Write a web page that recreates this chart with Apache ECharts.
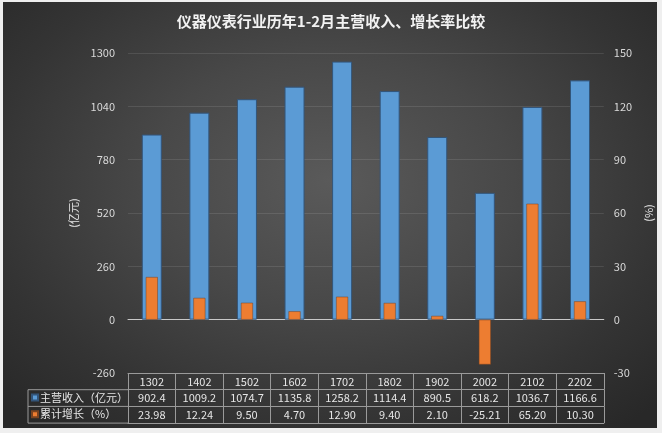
<!DOCTYPE html>
<html><head><meta charset="utf-8">
<script src="https://cdn.jsdelivr.net/npm/echarts@6/dist/echarts.min.js"></script>
<style>
html,body{margin:0;padding:0;background:#efefef;}
#bg{position:absolute;left:3px;top:2px;width:654px;height:426px;
background:radial-gradient(ellipse 70% 75% at 50% 42%, #5a5a5a 0%, #484848 40%, #343434 75%, #282828 100%);}
#c{position:absolute;left:0;top:0;width:662px;height:433px;}
</style></head>
<body>
<div id="bg"></div>
<div id="c"></div>
<script>
const categories = ['1302','1402','1502','1602','1702','1802','1902','2002','2102','2202'];
const revenue = [902.4,1009.2,1074.7,1135.8,1258.2,1114.4,890.5,618.2,1036.7,1166.6];
const growth = [23.98,12.24,9.50,4.70,12.90,9.40,2.10,-25.21,65.20,10.30];
const seriesNames = ['主营收入（亿元）','累计增长（%）'];
const titleText = '仪器仪表行业历年1-2月主营收入、增长率比较';

const FONT = '"Noto Sans CJK SC", "Noto Sans", sans-serif';
const TXT = '#e6e6e6';
const LINE = '#9a9a9a';
const ROW = 16.7;

const chart = echarts.init(document.getElementById('c'));
const tableAxis = (offset, labels, show) => ({
  type: 'category', data: categories, position: 'bottom', offset: offset,
  gridIndex: 0,
  axisLine: {show: true, onZero: false, lineStyle: {color: LINE, width: 1}},
  axisTick: {show: show, length: ROW, interval: 0, lineStyle: {color: LINE}},
  axisLabel: {show: show, interval: 0, margin: 3, color: TXT, fontSize: 11, fontFamily: FONT,
    formatter: (v, i) => labels[i]},
  splitLine: {show: false}
});

chart.setOption({
  backgroundColor: 'transparent',
  animation: false,
  title: {text: titleText, left: 'center', top: 9,
    textStyle: {color: '#f2f2f2', fontSize: 15, fontWeight: 'bold', fontFamily: FONT}},
  legend: {orient: 'vertical', left: 31, top: 391, padding: 0, itemWidth: 6, itemHeight: 6, itemGap: 3.7,
    icon: 'rect', data: seriesNames,
    textStyle: {color: TXT, fontSize: 11, fontFamily: FONT, padding: [0,0,0,-3], lineHeight: 13}},
  grid: {left: 128, right: 56, top: 53, bottom: 60, containLabel: false},
  xAxis: [
    {type: 'category', data: categories, position: 'bottom',
      axisLine: {show: true, onZero: true, lineStyle: {color: '#c8c8c8', width: 1}},
      axisTick: {show: false}, axisLabel: {show: false}},
    tableAxis(0, categories, true),
    tableAxis(ROW, revenue.map(v => v.toFixed(1)), true),
    tableAxis(ROW * 2, growth.map(v => v.toFixed(2)), true),
    tableAxis(ROW * 3, categories, false),
    {type: 'category', data: categories, show: false}
  ],
  yAxis: [
    {type: 'value', min: -260, max: 1300, interval: 260, position: 'left',
      name: '(亿元)', nameLocation: 'middle', nameGap: 37, nameRotate: 90,
      nameTextStyle: {color: TXT, fontSize: 11, fontFamily: FONT},
      axisLine: {show: false}, axisTick: {show: false},
      axisLabel: {color: '#d9d9d9', fontSize: 11, margin: 13, fontFamily: FONT, formatter: v => String(v)},
      splitLine: {show: true, lineStyle: {color: 'rgba(255,255,255,0.10)', width: 1}}},
    {type: 'value', min: -30, max: 150, interval: 30, position: 'right',
      name: '(%)', nameLocation: 'middle', nameGap: 34, nameRotate: 90,
      nameTextStyle: {color: TXT, fontSize: 11, fontFamily: FONT},
      axisLine: {show: false}, axisTick: {show: false},
      axisLabel: {color: '#d9d9d9', fontSize: 11, margin: 10, fontFamily: FONT, formatter: v => String(v)},
      splitLine: {show: false}}
  ],
  graphic: [
    {type: 'line', shape: {x1: 28, y1: 373 + ROW, x2: 128, y2: 373 + ROW}, style: {stroke: LINE, lineWidth: 1}},
    {type: 'line', shape: {x1: 28, y1: 373 + ROW * 2, x2: 128, y2: 373 + ROW * 2}, style: {stroke: LINE, lineWidth: 1}},
    {type: 'line', shape: {x1: 28, y1: 373 + ROW * 3, x2: 128, y2: 373 + ROW * 3}, style: {stroke: LINE, lineWidth: 1}},
    {type: 'line', shape: {x1: 28, y1: 373 + ROW, x2: 28, y2: 373 + ROW * 3}, style: {stroke: LINE, lineWidth: 1}}
  ],
  series: [
    {name: seriesNames[0], type: 'bar', data: revenue, xAxisIndex: 0, yAxisIndex: 0,
      barWidth: 20,
      itemStyle: {color: '#5b9bd5', borderColor: '#33557a', borderWidth: 1}},
    {name: seriesNames[1], type: 'bar', data: growth, xAxisIndex: 5, yAxisIndex: 1,
      barWidth: 12, z: 3,
      itemStyle: {color: '#ed7d31', borderColor: '#7a4320', borderWidth: 0.5}}
  ]
});
</script>
</body></html>
